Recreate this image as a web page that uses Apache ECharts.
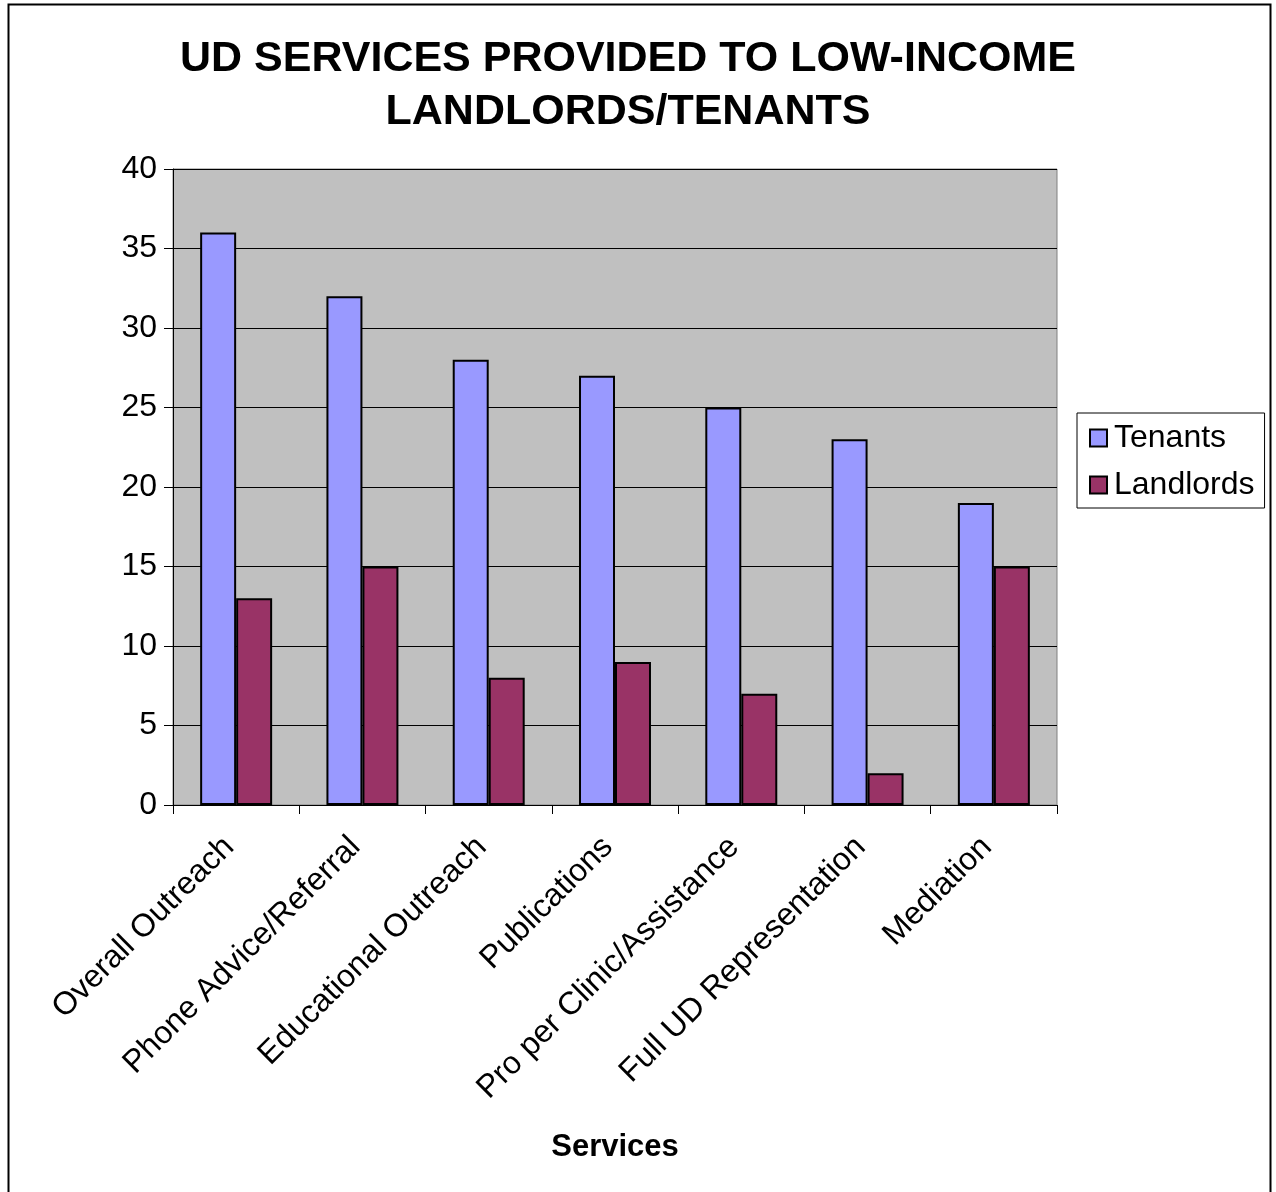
<!DOCTYPE html>
<html><head><meta charset="utf-8">
<script src="https://cdn.jsdelivr.net/npm/echarts@6/dist/echarts.min.js"></script>
<style>html,body{margin:0;padding:0;background:#fff}#c{width:1276px;height:1192px}</style>
</head><body><div id="c"></div>
<script>
const categories = ["Overall Outreach","Phone Advice/Referral","Educational Outreach","Publications","Pro per Clinic/Assistance","Full UD Representation","Mediation"];
const tenants = [36,32,28,27,25,23,19];
const landlords = [13,15,8,9,7,2,15];
const yTicks = [0,5,10,15,20,25,30,35,40];

const chart = echarts.init(document.getElementById('c'), null, {renderer:'canvas'});
const font = '"Liberation Sans", Arial, sans-serif';
chart.setOption({
  animation:false,
  backgroundColor:'#fff',
  textStyle:{fontFamily:font},
  title:{text:'UD SERVICES PROVIDED TO LOW-INCOME\nLANDLORDS/TENANTS', left:623, top:28, textAlign:'center',
    textStyle:{fontFamily:font,fontSize:43,fontWeight:'bold',color:'#000',lineHeight:53}},
  graphic:[{type:'rect',shape:{x:8.5,y:4.5,width:1262,height:1200},style:{fill:null,stroke:'#000',lineWidth:2},silent:true}],
  legend:{orient:'vertical', left:1077, top:413, itemWidth:17, itemHeight:17, itemGap:15,
    padding:[9,10,7,12], borderColor:'#000', borderWidth:1, backgroundColor:'#fff',
    textStyle:{fontFamily:font,fontSize:32,color:'#000',padding:[0,0,0,2]},
    icon:'rect', data:['Tenants','Landlords']},
  grid:{left:173, top:169, width:884, height:636, show:true, backgroundColor:'#C0C0C0', borderColor:'#808080', borderWidth:1, containLabel:false},
  xAxis:{type:'category', data:categories, name:'Services', nameLocation:'middle', nameGap:327,
    nameTextStyle:{fontFamily:font,fontSize:31,fontWeight:'bold',color:'#000'},
    axisLine:{lineStyle:{color:'#000',width:1}}, axisTick:{show:true,length:9,lineStyle:{color:'#000'},alignWithLabel:false},
    axisLabel:{rotate:45, fontFamily:font, fontSize:32, color:'#000', margin:30, interval:0, padding:[0,10,0,0]}},
  yAxis:{type:'value', min:yTicks[0], max:yTicks[yTicks.length-1], interval:5,
    axisLine:{show:true,lineStyle:{color:'#000'}}, axisTick:{show:true,length:9,lineStyle:{color:'#000'}},
    axisLabel:{fontFamily:font,fontSize:32,color:'#000',margin:16},
    splitLine:{show:true,lineStyle:{color:'#000',width:1}}},
  series:[
    {name:'Tenants', type:'bar', data:tenants, barGap:'0%', barCategoryGap:'43%',
      itemStyle:{color:'#9999FF',borderColor:'#000',borderWidth:2}},
    {name:'Landlords', type:'bar', data:landlords, barGap:'0%', barCategoryGap:'43%',
      itemStyle:{color:'#993366',borderColor:'#000',borderWidth:2}}
  ]
});
</script></body></html>
